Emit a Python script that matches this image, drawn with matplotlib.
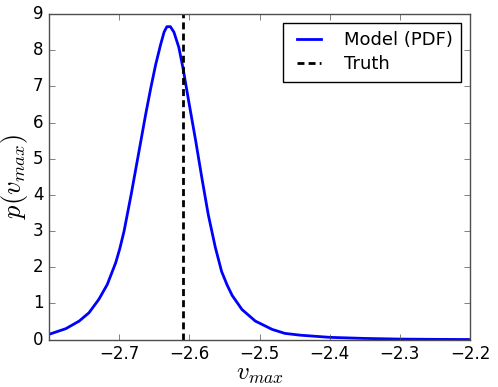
import matplotlib
matplotlib.use("Agg")
import matplotlib.pyplot as plt

# values
v_max = [-2.799, -2.776, -2.757, -2.743, -2.729, -2.717, -2.705, -2.699,
         -2.693, -2.683, -2.676, -2.669, -2.662, -2.655, -2.648, -2.641,
         -2.636, -2.632, -2.627, -2.622, -2.615, -2.609, -2.601, -2.591,
         -2.582, -2.573, -2.563, -2.554, -2.546, -2.539, -2.525, -2.506,
         -2.482, -2.464, -2.442, -2.40, -2.35, -2.30, -2.25, -2.20]
pdf = [0.15, 0.30, 0.51, 0.74, 1.11, 1.52, 2.12, 2.52,
       3.0, 4.0, 4.75, 5.5, 6.25, 6.95, 7.6, 8.15,
       8.5, 8.65, 8.65, 8.50, 8.08, 7.5, 6.6, 5.5,
       4.45, 3.45, 2.55, 1.88, 1.5, 1.22, 0.83, 0.51,
       0.28, 0.17, 0.12, 0.06, 0.03, 0.012, 0.004, 0.0]
truth = -2.609
xticks = [-2.7, -2.6, -2.5, -2.4, -2.3, -2.2]

plt.style.use("classic")
fig = plt.figure(figsize=(4.98, 3.87), dpi=100)
fig.patch.set_facecolor("white")
ax = fig.add_axes([0.0984, 0.1227, 0.8454, 0.8411])

ax.plot(v_max, pdf, color="b", lw=2, label="Model (PDF)")
ax.axvline(truth, color="k", ls="--", dashes=(5, 3), lw=2, label="Truth")

ax.set_xlim(-2.8, -2.2)
ax.set_ylim(0, 9)
ax.set_xticks(xticks)
ax.set_xlabel(r"$v_{max}$", fontsize=18, labelpad=-1)
ax.set_ylabel(r"$p(v_{max})$", fontsize=19, labelpad=2)

for s in ax.spines.values():
    s.set_color("0.3")
ax.tick_params(color="0.3")

ax.legend(loc="upper right", fontsize=13, handlelength=1.9,
          handletextpad=1.0, borderpad=0.45, labelspacing=0.35)

fig.savefig("out.png", dpi=100, facecolor="white")
